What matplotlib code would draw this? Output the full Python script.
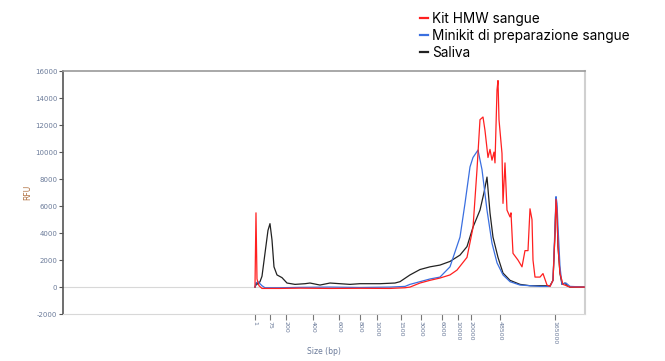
import matplotlib
matplotlib.use("Agg")
import matplotlib.pyplot as plt

# migration position (arbitrary units along the trace) and RFU values
red_x = [255, 256, 257, 259, 262, 265, 280, 300, 330, 360, 390, 405, 410, 420, 430, 440,
         450, 457, 467, 473, 477, 480, 483, 485, 488, 490, 492, 494, 495, 497, 498, 499, 502, 503,
         505, 507, 510, 511, 513, 518, 522, 525, 528, 530, 532, 533, 535, 540, 543, 547,
         550, 553, 555, 556, 557, 558, 560, 563, 570, 585]
red_y = [0, 5500, 600, 100, -100, -100, -100, -80, -100, -90, -100, -50, 0, 300, 500, 670,
         900, 1260, 2200, 4400, 8700, 12400, 12600, 11600, 9600, 10200, 9400, 10000, 9200, 14600, 15300, 12400, 9900, 6200,
         9200, 5700, 5200, 5500, 2500, 2000, 1500, 2700, 2700, 5800, 5000, 2000, 740, 740, 1000, 150,
         50, 500, 4000, 6500, 5500, 3000, 1000, 200, 0, 0]

blue_x = [255, 256, 258, 262, 265, 280, 300, 330, 360, 390, 405, 410, 420, 430, 440,
          450, 460, 465, 470, 473, 478, 482, 487, 492, 497, 503, 510, 520, 540, 550,
          553, 555, 556, 557, 558, 560, 562, 566, 570, 585]
blue_y = [0, 300, 400, 100, -50, -50, -20, 0, -30, 0, 50, 200, 400, 600, 740,
          1500, 3700, 6200, 8900, 9600, 10150, 8700, 5700, 3250, 1800, 900, 400, 150, 50, 50,
          500, 4500, 6700, 6200, 4500, 1500, 200, 300, 50, 0]

black_x = [255, 257, 258, 260, 262, 265, 268, 270, 272, 274, 277, 282, 287, 295, 305,
           310, 320, 330, 340, 350, 360, 380, 395, 400, 410, 420, 430, 440, 450, 460,
           467, 473, 480, 484, 487, 490, 493, 498, 503, 510, 520, 530, 540, 550, 553,
           555, 556, 557, 558, 560, 562, 565, 567, 570, 585]
black_y = [0, 300, 200, 400, 800, 2500, 4200, 4700, 3500, 1500, 900, 700, 300, 200, 250,
           300, 150, 300, 250, 200, 250, 250, 300, 400, 900, 1300, 1500, 1630, 1900, 2370,
           3000, 4440, 5700, 7000, 8150, 5500, 3700, 2200, 1040, 500, 200, 100, 100, 100, 500,
           4000, 6500, 5500, 3000, 1000, 200, 300, 100, 0, 0]

size_pos = [255, 270, 286, 313, 339, 360, 377, 401, 421, 442, 458, 471, 500, 555]
size_labels = ["1", "75", "200", "400", "600", "800", "1000", "1500", "3000", "6000",
               "10000", "20000", "48500", "165000"]
rfu_ticks = [-2000, 0, 2000, 4000, 6000, 8000, 10000, 12000, 14000, 16000]

fig = plt.figure(figsize=(6.65, 3.61), dpi=100)
ax = fig.add_axes([0.0947, 0.130, 0.7850, 0.673])

ax.axhline(0, color="#d8d8d8", lw=0.8, zorder=1)
ax.plot(black_x, black_y, color="#222222", lw=0.9, label="Saliva", zorder=2)
ax.plot(blue_x, blue_y, color="#3a6fe0", lw=0.9, label="Minikit di preparazione sangue", zorder=3)
ax.plot(red_x, red_y, color="#ff2020", lw=0.9, label="Kit HMW sangue", zorder=4)

ax.set_xlim(63, 585)
ax.set_ylim(-2000, 16000)
ax.set_yticks(rfu_ticks)
ax.set_yticklabels([str(v) for v in rfu_ticks], fontsize=5, color="#6a7a99")
ax.set_xticks(size_pos)
ax.set_xticklabels(size_labels, rotation=-90, fontsize=4.5, color="#6a7a99")
ax.tick_params(axis="y", length=3, width=0.8, color="#555555", pad=1)
ax.tick_params(axis="x", length=4, width=0.8, color="#777777", pad=1)

ax.spines["left"].set_color("#555555")
ax.spines["left"].set_linewidth(1.2)
ax.spines["top"].set_color("#999999")
ax.spines["top"].set_linewidth(1.2)
ax.spines["right"].set_color("#d0d0d0")
ax.spines["right"].set_linewidth(1.5)
ax.spines["bottom"].set_color("#d8d8d8")

ax.set_ylabel("RFU", fontsize=5.5, color="#b07040", labelpad=2)
ax.set_xlabel("Size (bp)", fontsize=5.5, color="#6a7a99", labelpad=2)

handles, labels = ax.get_legend_handles_labels()
order = [2, 1, 0]
fig.legend([handles[i] for i in order], [labels[i] for i in order],
           loc="upper left", bbox_to_anchor=(0.62, 0.99), frameon=False,
           prop={"family": "Inter", "size": 9.8}, handlelength=0.55, handletextpad=0.3,
           labelspacing=0.22, borderaxespad=0.2)
for line in fig.legends[0].get_lines():
    line.set_linewidth(1.6)

fig.savefig("out.png", dpi=100)
